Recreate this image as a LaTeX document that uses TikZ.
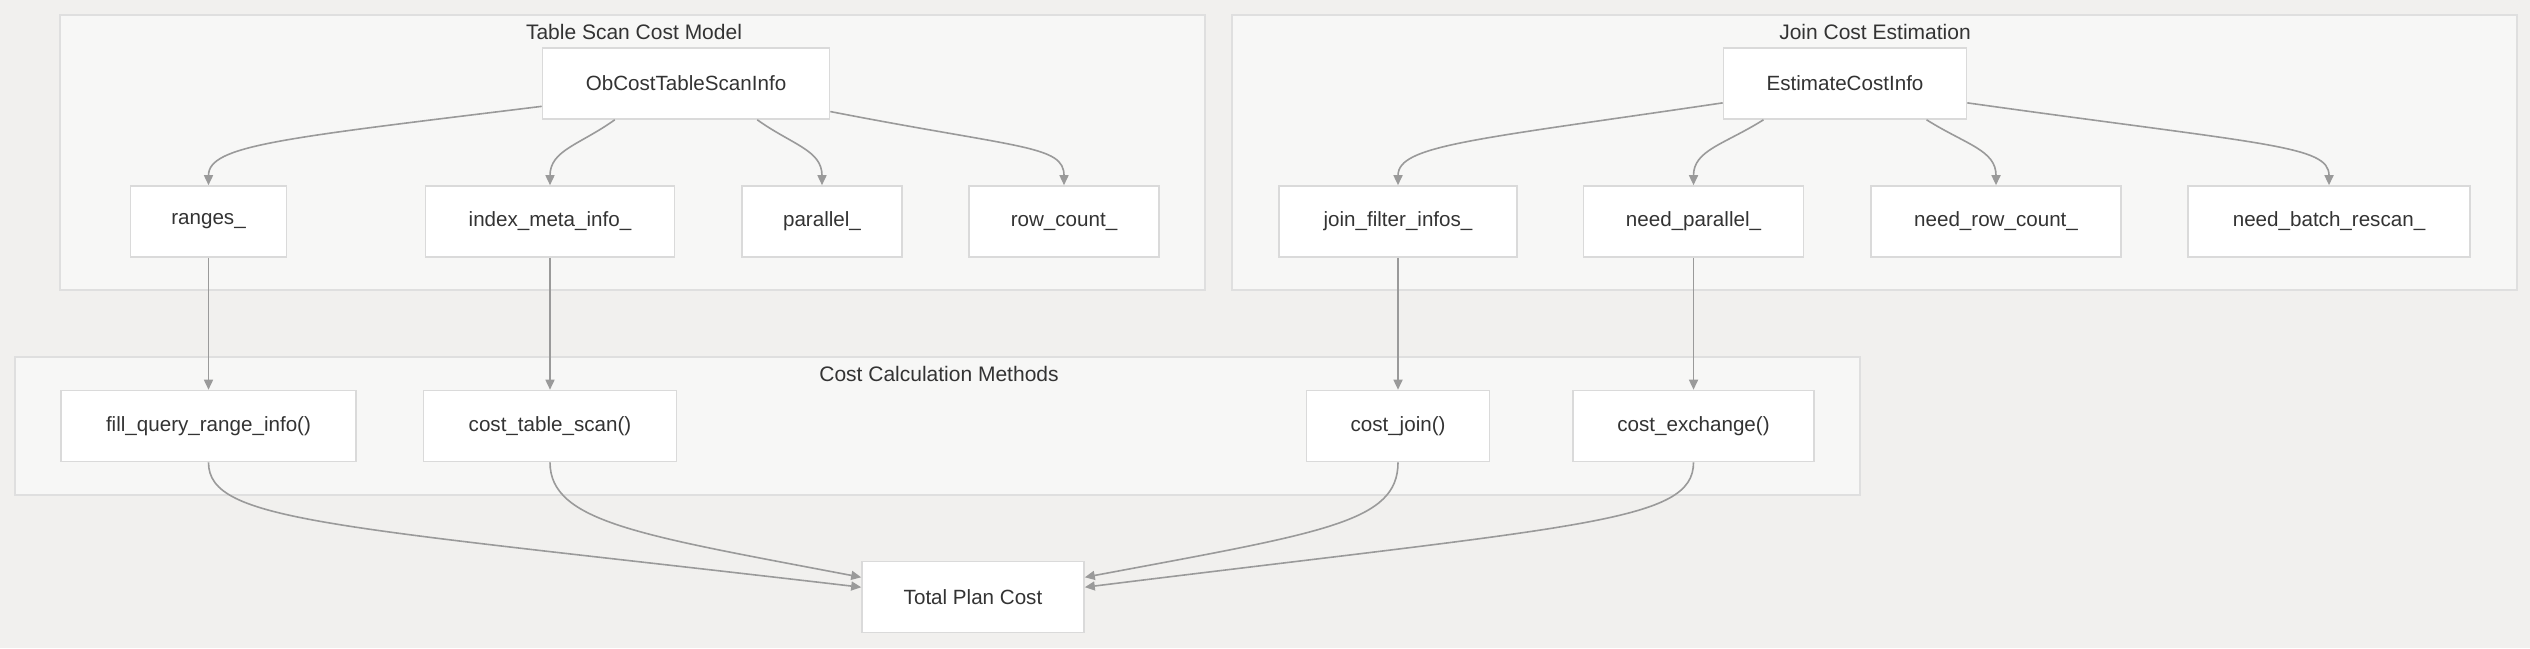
\documentclass[tikz,border=0pt]{standalone}
\usepackage{fontspec}
\setmainfont{Liberation Sans}
\usetikzlibrary{arrows.meta}
\definecolor{canvas}{HTML}{F1F0EE}
\definecolor{panel}{HTML}{F7F7F6}
\definecolor{panelline}{HTML}{DFDFDF}
\definecolor{boxline}{HTML}{DADADA}
\definecolor{wire}{HTML}{9A9A9A}
\definecolor{ink}{HTML}{333333}

\begin{document}
\begin{tikzpicture}[x=0.5pt,y=-0.5pt,
  group/.style={draw=panelline,fill=panel,line width=1pt},
  grouptitle/.style={font=\fontsize{10.5}{12}\selectfont,text=ink},
  box/.style={draw=boxline,fill=white,line width=0.8pt,minimum height=35.5pt,
    minimum width=#1,inner sep=0pt,font=\fontsize{10.3}{12}\selectfont,text=ink},
  flow/.style={draw=wire,line width=0.8pt,-{Triangle[length=5pt,width=4.5pt]}}]
  \useasboundingbox[fill=canvas] (0,0) rectangle (2530,648);

  % Subgraph frames
  \draw[group] (60,15) rectangle (1205,290);
  \draw[group] (1232,15) rectangle (2517,290);
  \draw[group] (15,357) rectangle (1860,495);
  \node[grouptitle] (scantitle) at (634,32) {Table Scan Cost Model};
  \node[grouptitle] (jointitle) at (1875,32) {Join Cost Estimation};
  \node[grouptitle] (calctitle) at (939,374) {Cost Calculation Methods};

  % Table scan cost model
  \node[box=143.5pt] (scan) at (686,83.5) {ObCostTableScanInfo};
  \node[box=78pt] (ranges) at (208.5,221.5) {ranges\_};
  \node[box=124.5pt] (indexmeta) at (550,221.5) {index\_meta\_info\_};
  \node[box=80pt] (par) at (822,221.5) {parallel\_};
  \node[box=95pt] (rows) at (1064,221.5) {row\_count\_};

  % Join cost estimation
  \node[box=121.5pt] (est) at (1845,83.5) {EstimateCostInfo};
  \node[box=119pt] (joinfilt) at (1398,221.5) {join\_filter\_infos\_};
  \node[box=110pt] (needpar) at (1693.5,221.5) {need\_parallel\_};
  \node[box=125pt] (needrows) at (1996,221.5) {need\_row\_count\_};
  \node[box=141pt] (needrescan) at (2329,221.5) {need\_batch\_rescan\_};

  % Cost calculation methods
  \node[box=147.5pt] (fillrange) at (208.5,426) {fill\_query\_range\_info()};
  \node[box=126.5pt] (costscan) at (550,426) {cost\_table\_scan()};
  \node[box=91.5pt] (costjoin) at (1398,426) {cost\_join()};
  \node[box=120.5pt] (costexch) at (1693.5,426) {cost\_exchange()};
  \node[box=111pt] (total) at (973,597) {Total Plan Cost};

  % Edges
  \draw[flow] (scan.189) .. controls +(-260,32) and +(0,-40) .. (ranges.north);
  \draw[flow] (scan.207) .. controls +(-35,25) and +(0,-35) .. (indexmeta.north);
  \draw[flow] (scan.333) .. controls +(35,25) and +(0,-35) .. (par.north);
  \draw[flow] (scan.349) .. controls +(190,37) and +(0,-40) .. (rows.north);
  \draw[flow] (est.189) .. controls +(-250,37) and +(0,-40) .. (joinfilt.north);
  \draw[flow] (est.204) .. controls +(-40,25) and +(0,-35) .. (needpar.north);
  \draw[flow] (est.336) .. controls +(40,25) and +(0,-35) .. (needrows.north);
  \draw[flow] (est.351) .. controls +(300,42) and +(0,-40) .. (needrescan.north);

  \draw[flow] (ranges) -- (fillrange);
  \draw[flow] (indexmeta) -- (costscan);
  \draw[flow] (joinfilt) -- (costjoin);
  \draw[flow] (needpar) -- (costexch);

  \draw[flow] (fillrange.south) .. controls +(0,60) and +(-530,-62) .. (total.175);
  \draw[flow] (costscan.south) .. controls +(0,60) and +(-220,-42) .. (total.170);
  \draw[flow] (costjoin.south) .. controls +(0,60) and +(240,-45) .. (total.10);
  \draw[flow] (costexch.south) .. controls +(0,60) and +(500,-62) .. (total.5);
\end{tikzpicture}
\end{document}
